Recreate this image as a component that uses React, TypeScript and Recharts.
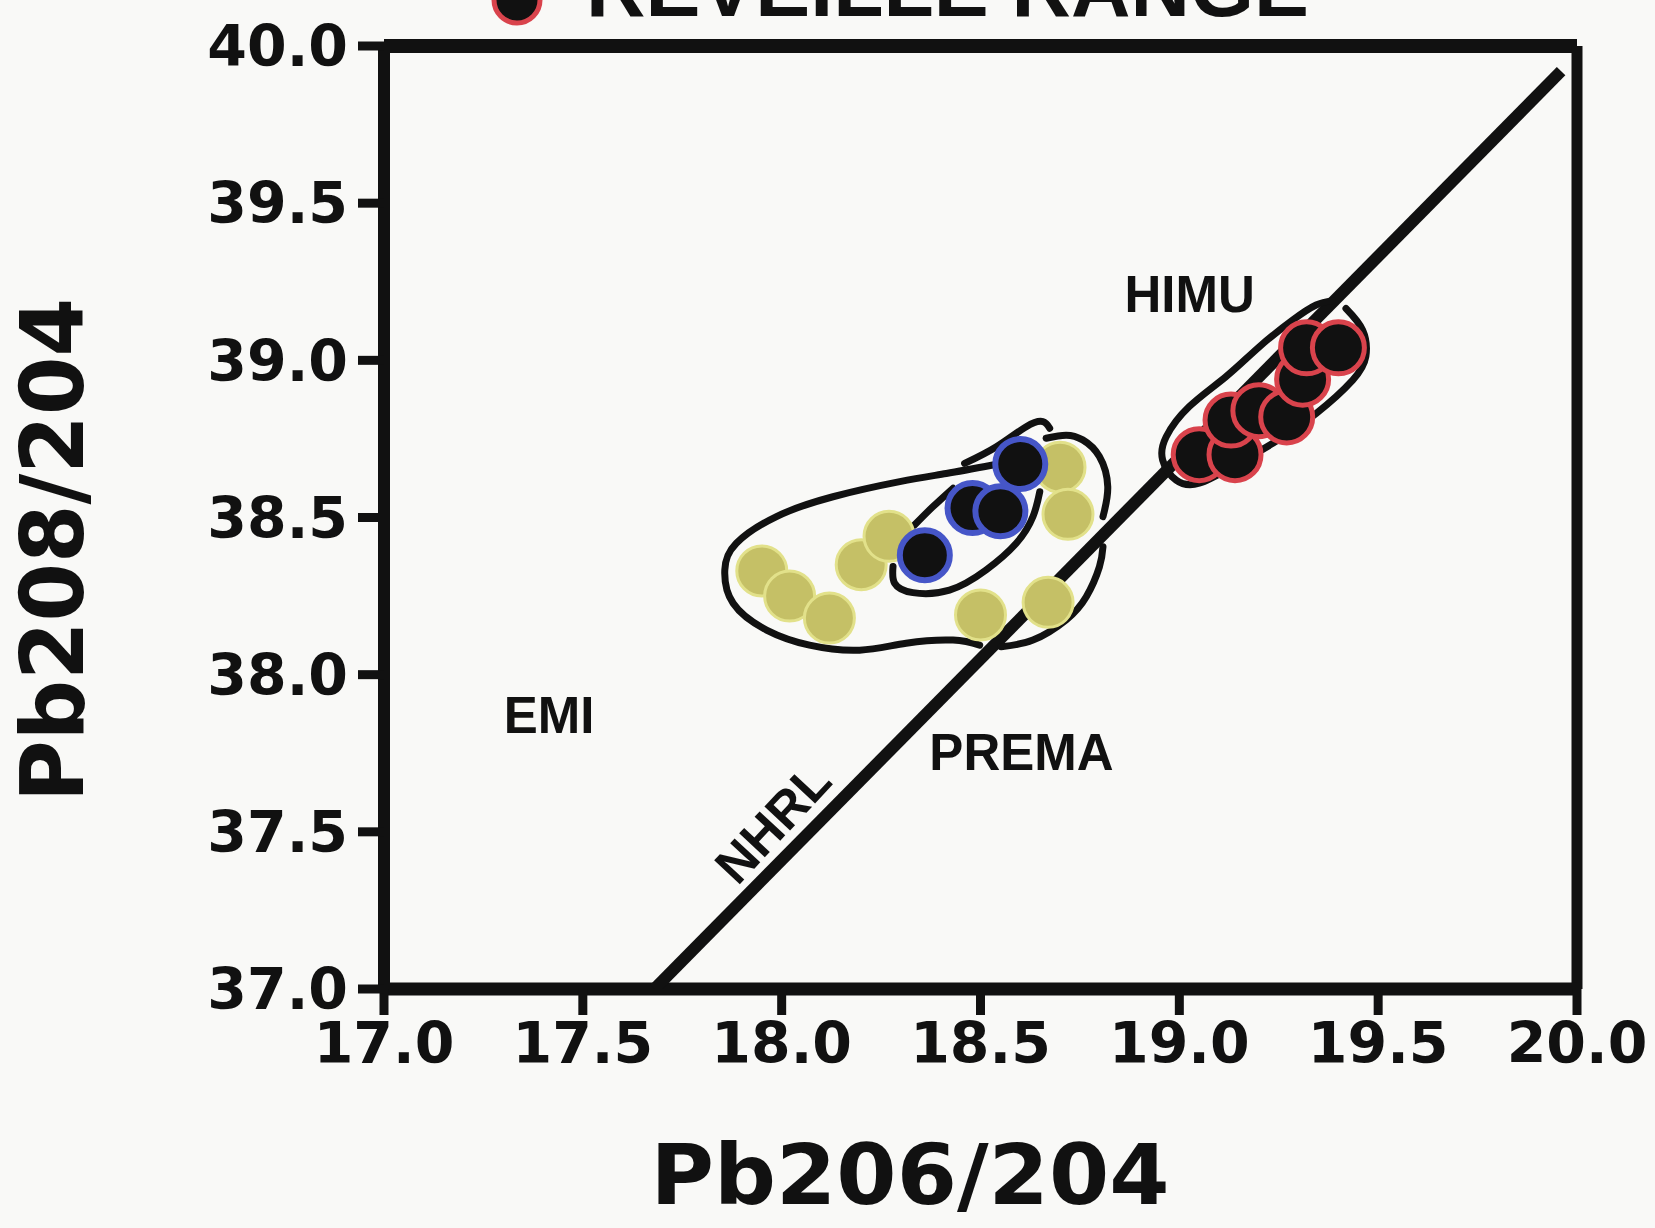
import React from "react";
import { ScatterChart, Scatter, XAxis, YAxis, ReferenceLine, ReferenceDot } from "recharts";

const X_TICKS = [17.0, 17.5, 18.0, 18.5, 19.0, 19.5, 20.0];
const Y_TICKS = [37.0, 37.5, 38.0, 38.5, 39.0, 39.5, 40.0];

// yellow samples
const yellowPb206 = [17.95, 18.02, 18.12, 18.2, 18.27, 18.5, 18.67, 18.7, 18.72];
const yellowPb208 = [38.33, 38.25, 38.18, 38.35, 38.44, 38.19, 38.23, 38.66, 38.51];

// black / blue rim samples
const bluePb206 = [18.36, 18.48, 18.55, 18.6];
const bluePb208 = [38.38, 38.53, 38.52, 38.67];

// Reveille Range (black / red rim)
const redPb206 = [19.05, 19.14, 19.13, 19.2, 19.27, 19.31, 19.32, 19.4];
const redPb208 = [38.7, 38.7, 38.81, 38.84, 38.82, 38.94, 39.04, 39.04];

// northern hemisphere reference line
const nhrlPb206 = [17.68, 19.96];
const nhrlPb208 = [37.0, 39.92];

// hand drawn field outlines [Pb206, Pb208]
const premaOuter: [number, number][] = [
  [18.531, 38.667], [18.414, 38.64], [18.297, 38.614], [18.129, 38.566], [17.987, 38.503],
  [17.886, 38.418], [17.857, 38.333], [17.878, 38.227], [17.962, 38.142], [18.07, 38.094],
  [18.196, 38.078], [18.313, 38.1], [18.431, 38.11], [18.498, 38.094],
];
const premaRightLow: [number, number][] = [
  [18.552, 38.089], [18.632, 38.11], [18.715, 38.174], [18.766, 38.248], [18.799, 38.343], [18.808, 38.407],
];
const premaRightHigh: [number, number][] = [
  [18.808, 38.503], [18.82, 38.598], [18.799, 38.694], [18.757, 38.747], [18.715, 38.762], [18.665, 38.752],
];
const premaTopHook: [number, number][] = [
  [18.46, 38.672], [18.54, 38.725], [18.615, 38.789], [18.657, 38.805], [18.674, 38.784],
];
const innerLow: [number, number][] = [
  [18.28, 38.344], [18.284, 38.291], [18.33, 38.261], [18.422, 38.269], [18.514, 38.333],
  [18.59, 38.418], [18.632, 38.503], [18.649, 38.582],
];
const innerHigh: [number, number][] = [[18.334, 38.476], [18.38, 38.534], [18.431, 38.593]];
const himuOutline: [number, number][] = [
  [19.419, 39.165], [19.461, 39.096], [19.469, 39.012], [19.436, 38.937], [19.344, 38.831],
  [19.235, 38.736], [19.134, 38.662], [19.05, 38.609], [18.992, 38.619], [18.958, 38.683],
  [18.967, 38.757], [19.025, 38.853], [19.117, 38.948], [19.201, 39.043], [19.285, 39.128],
  [19.344, 39.176], [19.385, 39.19],
];

const toPts = (xs: number[], ys: number[]) => xs.map((x, i) => ({ x, y: ys[i] }));
const fromPairs = (arr: [number, number][]) => arr.map(([x, y]) => ({ x, y }));

const INK = "#111";
const noShape = () => <g />;

const yellowDot = (p: any) => (
  <circle cx={p.cx} cy={p.cy} r={25} fill="#c5c066" stroke="#e2e18a" strokeWidth={3} />
);
const blueDot = (p: any) => (
  <circle cx={p.cx} cy={p.cy} r={25} fill={INK} stroke="#4656c8" strokeWidth={6} />
);
const redDot = (p: any) => (
  <circle cx={p.cx} cy={p.cy} r={26} fill={INK} stroke="#d9434c" strokeWidth={5} />
);

const labelText = (txt: string, rotate = 0) => (p: any) => (
  <text
    x={p.cx}
    y={p.cy}
    textAnchor="middle"
    dominantBaseline="central"
    fontFamily="Liberation Sans, Arial, sans-serif"
    fontWeight={700}
    fontSize={51}
    fill={INK}
    transform={rotate ? `rotate(${rotate} ${p.cx} ${p.cy})` : undefined}
  >
    {txt}
  </text>
);

const tickStyle = { fontFamily: "DejaVu Sans", fontWeight: 700, fontSize: 57, fill: INK };
const outlineLine = { stroke: INK, strokeWidth: 7, strokeLinecap: "round" as const };

const outlines = [premaOuter, premaRightLow, premaRightHigh, premaTopHook, innerLow, innerHigh, himuOutline];

export default function App() {
  return (
    <div style={{ position: "absolute", left: 0, top: 0, width: 1655, height: 1228, background: "#f9f9f7" }}>
      <ScatterChart width={1655} height={1228} margin={{ top: 46, right: 78, bottom: 139, left: 234 }}>
        <XAxis
          type="number"
          dataKey="x"
          domain={[17, 20]}
          ticks={X_TICKS}
          interval={0}
          allowDataOverflow
          tickFormatter={(v: number) => v.toFixed(1)}
          axisLine={{ stroke: INK, strokeWidth: 13 }}
          tickLine={{ stroke: INK, strokeWidth: 9 }}
          tickSize={26}
          tickMargin={8}
          tick={tickStyle}
          height={100}
        />
        <YAxis
          type="number"
          dataKey="y"
          domain={[37, 40]}
          ticks={Y_TICKS}
          interval={0}
          allowDataOverflow
          tickFormatter={(v: number) => v.toFixed(1)}
          axisLine={{ stroke: INK, strokeWidth: 12 }}
          tickLine={{ stroke: INK, strokeWidth: 9 }}
          tickSize={26}
          tickMargin={10}
          tick={tickStyle}
          width={150}
        />
        <ReferenceLine y={40} stroke={INK} strokeWidth={14} />
        <ReferenceLine x={20} stroke={INK} strokeWidth={11} />
        <Scatter
          data={toPts(nhrlPb206, nhrlPb208)}
          line={{ stroke: INK, strokeWidth: 12 }}
          shape={noShape}
          isAnimationActive={false}
        />
        {outlines.map((o, i) => (
          <Scatter
            key={i}
            data={fromPairs(o)}
            fill="none"
            line={outlineLine}
            lineJointType="natural"
            shape={noShape}
            isAnimationActive={false}
          />
        ))}
        <Scatter data={toPts(yellowPb206, yellowPb208)} shape={yellowDot} isAnimationActive={false} />
        <Scatter data={toPts(bluePb206, bluePb208)} shape={blueDot} isAnimationActive={false} />
        <Scatter data={toPts(redPb206, redPb208)} shape={redDot} isAnimationActive={false} />
        <ReferenceDot x={19.026} y={39.208} r={0} shape={labelText("HIMU")} />
        <ReferenceDot x={17.415} y={37.87} r={0} shape={labelText("EMI")} />
        <ReferenceDot x={18.603} y={37.752} r={0} shape={labelText("PREMA")} />
        <ReferenceDot x={17.978} y={37.528} r={0} shape={labelText("NHRL", -47)} />
      </ScatterChart>
      <svg
        width={1655}
        height={1228}
        style={{ position: "absolute", left: 0, top: 0, pointerEvents: "none" }}
      >
        <circle cx={517} cy={0} r={23} fill={INK} stroke="#d9434c" strokeWidth={5} />
        <text
          x={586}
          y={16}
          fontFamily="Liberation Sans, Arial, sans-serif"
          fontWeight={700}
          fontSize={82}
          textLength={723}
          lengthAdjust="spacingAndGlyphs"
          fill={INK}
        >
          REVEILLE RANGE
        </text>
        <text
          x={910}
          y={1204}
          textAnchor="middle"
          fontFamily="DejaVu Sans"
          fontWeight={700}
          fontSize={84}
          textLength={519}
          lengthAdjust="spacingAndGlyphs"
          fill={INK}
        >
          Pb206/204
        </text>
        <text
          transform="translate(83 550) rotate(-90)"
          textAnchor="middle"
          fontFamily="DejaVu Sans"
          fontWeight={700}
          fontSize={88}
          textLength={504}
          lengthAdjust="spacingAndGlyphs"
          fill={INK}
        >
          Pb208/204
        </text>
      </svg>
    </div>
  );
}
